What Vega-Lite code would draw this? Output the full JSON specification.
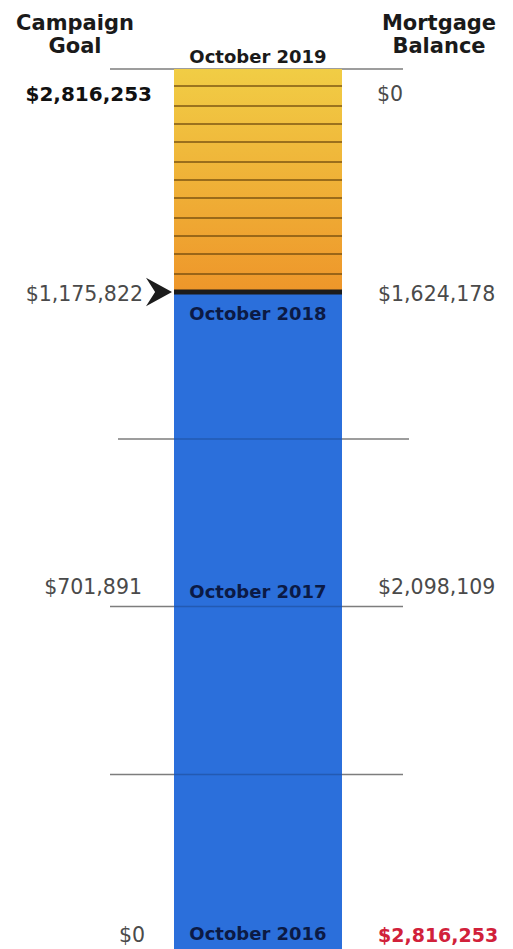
{
  "$schema": "https://vega.github.io/schema/vega-lite/v6.json",
  "width": 513,
  "height": 949,
  "padding": 0,
  "autosize": {"type": "fit", "contains": "padding"},
  "config": {"view": {"stroke": null}, "text": {"font": "DejaVu Sans"}},
  "datasets": {
    "rules": [
      {"h": 110, "h2": 403, "v": 880},
      {"h": 118, "h2": 409, "v": 510},
      {"h": 110, "h2": 403, "v": 342.5},
      {"h": 110, "h2": 403, "v": 174.5}
    ],
    "bar": [
      {"part": "remaining", "h": 174, "h2": 342, "v": 0, "v2": 657},
      {"part": "raised", "h": 174, "h2": 342, "v": 657, "v2": 880}
    ],
    "stripes": [
      {"h": 174, "h2": 342, "v": 863},
      {"h": 174, "h2": 342, "v": 843},
      {"h": 174, "h2": 342, "v": 825},
      {"h": 174, "h2": 342, "v": 807},
      {"h": 174, "h2": 342, "v": 787},
      {"h": 174, "h2": 342, "v": 769},
      {"h": 174, "h2": 342, "v": 751},
      {"h": 174, "h2": 342, "v": 731},
      {"h": 174, "h2": 342, "v": 713},
      {"h": 174, "h2": 342, "v": 695},
      {"h": 174, "h2": 342, "v": 675}
    ],
    "current": [{"h": 174, "h2": 342, "v": 657, "ah": 159}],
    "headers": [
      {"label": "Campaign", "h": 75, "v": 919},
      {"label": "Goal", "h": 75, "v": 896},
      {"label": "Mortgage", "h": 439, "v": 919},
      {"label": "Balance", "h": 439, "v": 896}
    ],
    "goals": [
      {"label": "$2,816,253", "h": 152, "v": 848, "top": true},
      {"label": "$1,175,822", "h": 143, "v": 648, "top": false},
      {"label": "$701,891", "h": 142, "v": 355, "top": false},
      {"label": "$0", "h": 145, "v": 7, "top": false}
    ],
    "balances": [
      {"label": "$0", "h": 377, "v": 848, "last": false},
      {"label": "$1,624,178", "h": 378, "v": 648, "last": false},
      {"label": "$2,098,109", "h": 378, "v": 355, "last": false},
      {"label": "$2,816,253", "h": 378, "v": 7, "last": true}
    ],
    "dates": [
      {"label": "October 2019", "h": 258, "v": 886, "onBar": false},
      {"label": "October 2018", "h": 258, "v": 629, "onBar": true},
      {"label": "October 2017", "h": 258, "v": 351, "onBar": true},
      {"label": "October 2016", "h": 258, "v": 9, "onBar": true}
    ]
  },
  "encoding": {
    "x": {"field": "h", "type": "quantitative", "scale": {"domain": [0, 513], "nice": false, "zero": false}, "axis": null},
    "y": {"field": "v", "type": "quantitative", "scale": {"domain": [0, 949], "nice": false, "zero": false}, "axis": null}
  },
  "layer": [
    {
      "data": {"name": "rules"},
      "mark": {"type": "rule", "color": "#7d7d7d", "strokeWidth": 1.6},
      "encoding": {"x2": {"field": "h2"}}
    },
    {
      "data": {"name": "bar"},
      "transform": [{"filter": "datum.part === 'remaining'"}],
      "mark": {"type": "rect", "color": "#2b6fdb"},
      "encoding": {"x2": {"field": "h2"}, "y2": {"field": "v2"}}
    },
    {
      "data": {"name": "bar"},
      "transform": [{"filter": "datum.part === 'raised'"}],
      "mark": {"type": "rect", "color": {"gradient": "linear", "x1": 0, "y1": 0, "x2": 0, "y2": 1, "stops": [{"offset": 0, "color": "#f1cd45"}, {"offset": 1, "color": "#ee962a"}]}},
      "encoding": {"x2": {"field": "h2"}, "y2": {"field": "v2"}}
    },
    {
      "data": {"name": "rules"},
      "transform": [{"filter": "datum.v < 800"}],
      "mark": {"type": "rule", "color": "#0a1a3a", "opacity": 0.25, "strokeWidth": 1.6},
      "encoding": {"x": {"datum": 174}, "x2": {"datum": 342}}
    },
    {
      "data": {"name": "stripes"},
      "mark": {"type": "rule", "color": "#6a450c", "opacity": 0.85, "strokeWidth": 1.5},
      "encoding": {"x2": {"field": "h2"}}
    },
    {
      "data": {"name": "current"},
      "mark": {"type": "rule", "color": "#1c1c1c", "strokeWidth": 5},
      "encoding": {"x2": {"field": "h2"}}
    },
    {
      "data": {"name": "current"},
      "mark": {"type": "point", "shape": "M1,0 L-1,-1.1 L-0.3,0 L-1,1.1 Z", "size": 676, "filled": true, "color": "#1c1c1c", "opacity": 1},
      "encoding": {"x": {"field": "ah", "type": "quantitative"}}
    },
    {
      "data": {"name": "headers"},
      "mark": {"type": "text", "align": "center", "baseline": "alphabetic", "fontSize": 21, "fontWeight": "bold", "color": "#1a1a1a"},
      "encoding": {"text": {"field": "label"}}
    },
    {
      "data": {"name": "dates"},
      "mark": {"type": "text", "align": "center", "baseline": "alphabetic", "fontSize": 18, "fontWeight": "bold"},
      "encoding": {
        "text": {"field": "label"},
        "color": {"condition": {"test": "datum.onBar", "value": "#0b1a45"}, "value": "#1a1a1a"}
      }
    },
    {
      "data": {"name": "goals"},
      "transform": [{"filter": "datum.top"}],
      "mark": {"type": "text", "align": "right", "baseline": "alphabetic", "fontSize": 20, "fontWeight": "bold", "color": "#111111"},
      "encoding": {"text": {"field": "label"}}
    },
    {
      "data": {"name": "goals"},
      "transform": [{"filter": "!datum.top"}],
      "mark": {"type": "text", "align": "right", "baseline": "alphabetic", "fontSize": 20.5, "color": "#4a4a4a"},
      "encoding": {"text": {"field": "label"}}
    },
    {
      "data": {"name": "balances"},
      "transform": [{"filter": "!datum.last"}],
      "mark": {"type": "text", "align": "left", "baseline": "alphabetic", "fontSize": 20.5, "color": "#4a4a4a"},
      "encoding": {"text": {"field": "label"}}
    },
    {
      "data": {"name": "balances"},
      "transform": [{"filter": "datum.last"}],
      "mark": {"type": "text", "align": "left", "baseline": "alphabetic", "fontSize": 19, "fontWeight": "bold", "color": "#d1213a"},
      "encoding": {"text": {"field": "label"}}
    }
  ]
}
